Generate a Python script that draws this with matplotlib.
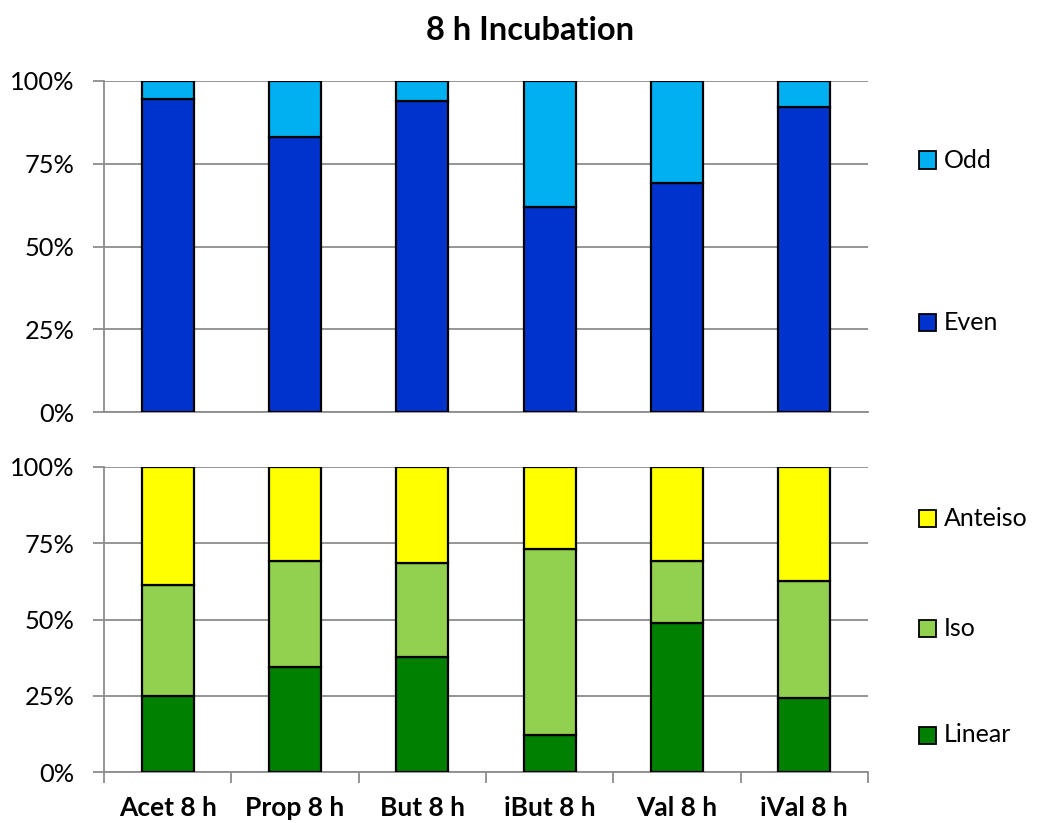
import matplotlib
matplotlib.use("Agg")
import matplotlib.pyplot as plt
from matplotlib.patches import Rectangle
from matplotlib.ticker import FixedLocator, PercentFormatter
import numpy as np

plt.rcParams['font.family'] = ['Lato', 'DejaVu Sans']

categories = ["Acet 8 h", "Prop 8 h", "But 8 h", "iBut 8 h", "Val 8 h", "iVal 8 h"]

# Odd / even chain fractions (%)
even = [94.5, 83.1, 93.9, 61.9, 69.2, 92.0]
odd = [5.5, 16.9, 6.1, 38.1, 30.8, 8.0]

# Branching fractions (%)
linear = [25.0, 34.4, 37.7, 12.2, 48.9, 24.1]
iso = [36.3, 34.8, 30.8, 60.9, 20.4, 38.6]
anteiso = [38.7, 30.8, 31.5, 26.9, 30.7, 37.3]

y_ticks = [0, 25, 50, 75, 100]

colors = {
    "Odd": "#00B0F0", "Even": "#0033CC",
    "Anteiso": "#FFFF00", "Iso": "#92D050", "Linear": "#008000",
}
grid_c = "#8C8C8C"

W, H = 1037, 823
fig = plt.figure(figsize=(W / 100, H / 100), dpi=100)

left, right = 104 / W, 868 / W
ax1 = fig.add_axes([left, 1 - 412 / H, right - left, (412 - 81) / H])
ax2 = fig.add_axes([left, 1 - 772 / H, right - left, (772 - 467) / H])

x = np.arange(len(categories))
bw = 0.41
ekw = dict(edgecolor="black", linewidth=1.6, zorder=3)

b_even = ax1.bar(x, even, bw, color=colors["Even"], label="Even", **ekw)
b_odd = ax1.bar(x, odd, bw, bottom=even, color=colors["Odd"], label="Odd", **ekw)

b_lin = ax2.bar(x, linear, bw, color=colors["Linear"], label="Linear", **ekw)
bot = np.array(linear)
b_iso = ax2.bar(x, iso, bw, bottom=bot, color=colors["Iso"], label="Iso", **ekw)
bot = bot + np.array(iso)
b_ant = ax2.bar(x, anteiso, bw, bottom=bot, color=colors["Anteiso"], label="Anteiso", **ekw)

for ax in (ax1, ax2):
    ax.set_xlim(-0.5, len(categories) - 0.5)
    ax.set_ylim(0, 100)
    ax.yaxis.set_major_locator(FixedLocator(y_ticks))
    ax.yaxis.set_major_formatter(PercentFormatter(decimals=0))
    ax.grid(axis="y", color=grid_c, linewidth=1.3, zorder=0)
    ax.set_axisbelow(True)
    for s in ("top", "right"):
        ax.spines[s].set_visible(False)
    ax.spines["left"].set_color(grid_c)
    ax.spines["left"].set_linewidth(1.3)
    ax.spines["bottom"].set_color(grid_c)
    ax.spines["bottom"].set_linewidth(1.3)
    ax.tick_params(axis="y", length=8, width=1.3, color=grid_c, labelsize=18.3, pad=13)

# top panel: no category labels
ax1.tick_params(axis="x", length=0, labelbottom=False)

# bottom panel: ticks between categories, labels centered
ax2.set_xticks(np.arange(-0.5, len(categories), 1.0))
ax2.set_xticklabels([])
ax2.tick_params(axis="x", length=8, width=1.3, color=grid_c)
ax2.set_xticks(x, minor=True)
ax2.set_xticklabels(categories, minor=True, fontsize=19, fontweight="bold")
ax2.tick_params(axis="x", which="minor", length=0, pad=17)

fig.text(530 / W, 1 - 31 / H, "8 h Incubation", ha="center", va="center",
         fontsize=23.5, fontweight="bold")

# legend entries placed beside each panel
def legend_entry(bars, label, y_px):
    sq = 17
    fig.add_artist(Rectangle((919 / W, 1 - (y_px + sq / 2) / H), sq / W, sq / H,
                             transform=fig.transFigure,
                             facecolor=bars.patches[0].get_facecolor(),
                             edgecolor="black", linewidth=1.3))
    fig.text(944 / W, 1 - y_px / H, label, ha="left", va="center", fontsize=18)

legend_entry(b_odd, "Odd", 160)
legend_entry(b_even, "Even", 322)
legend_entry(b_ant, "Anteiso", 518)
legend_entry(b_iso, "Iso", 628)
legend_entry(b_lin, "Linear", 735)

fig.savefig("out.png", dpi=100, facecolor="white")
